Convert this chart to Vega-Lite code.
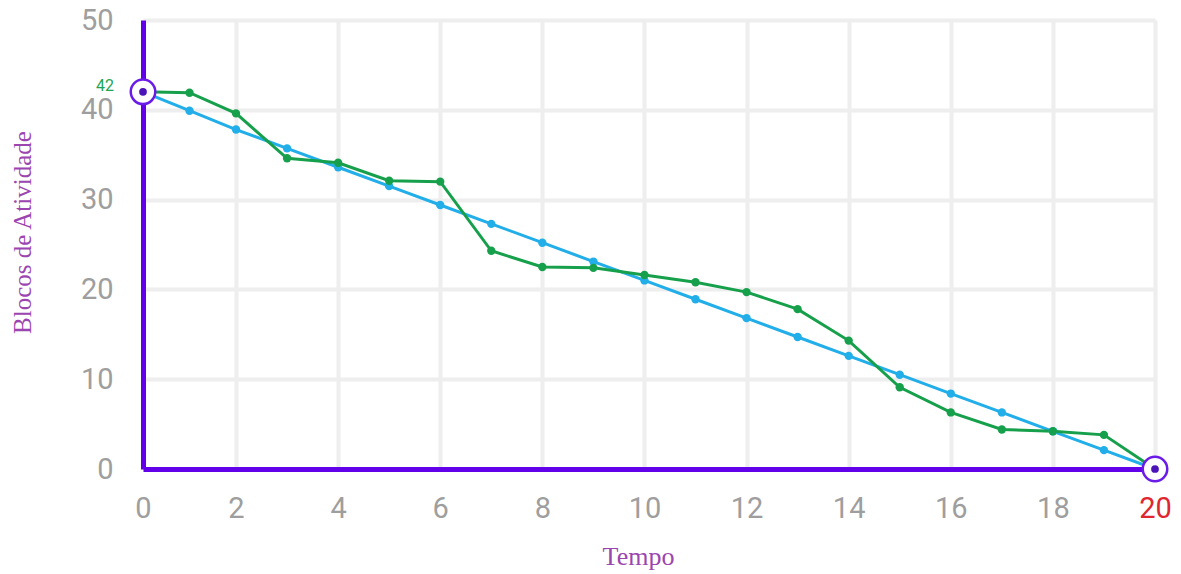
{
  "$schema": "https://vega.github.io/schema/vega-lite/v6.json",
  "width": 1012,
  "height": 449,
  "autosize": {"type": "none"},
  "padding": {"left": 143, "top": 20, "right": 26, "bottom": 105},
  "background": "#ffffff",
  "config": {"view": {"stroke": null}},
  "encoding": {
    "x": {
      "field": "t", "type": "quantitative",
      "scale": {"domain": [0, 2, 20], "range": [0, 93, 1012], "nice": false, "zero": false},
      "axis": {
        "title": "Tempo",
        "values": [0, 2, 4, 6, 8, 10, 12, 14, 16, 18, 20],
        "grid": true, "gridColor": "#eeeeee", "gridWidth": 4,
        "ticks": false,
        "domainColor": "#6200ea", "domainWidth": 5,
        "labelFont": "Roboto", "labelFontSize": 29,
        "labelColor": {"condition": {"test": "datum.value == 20", "value": "#e0262f"}, "value": "#9e9e9e"},
        "labelPadding": 25, "labelFlush": false, "labelOverlap": false, "labelBound": false,
        "titleFont": "Liberation Serif", "titleFontSize": 26, "titleFontWeight": "normal",
        "titleColor": "#9b45b0", "titleX": 495, "titleY": 87,
        "titleAlign": "center", "titleBaseline": "middle"
      }
    },
    "y": {
      "field": "v", "type": "quantitative",
      "scale": {"domain": [0, 50], "nice": false},
      "axis": {
        "title": "Blocos de Atividade",
        "values": [0, 10, 20, 30, 40, 50],
        "grid": true, "gridColor": "#eeeeee", "gridWidth": 4,
        "ticks": false,
        "domainColor": "#6200ea", "domainWidth": 5,
        "labelFont": "Roboto", "labelFontSize": 29, "labelColor": "#9e9e9e",
        "labelPadding": 30, "labelOverlap": false, "labelBound": false, "labelFlush": false,
        "titleFont": "Liberation Serif", "titleFontSize": 25, "titleFontWeight": "normal",
        "titleColor": "#9b45b0", "titleX": -121, "titleY": 212, "titleAngle": -90,
        "titleAlign": "center", "titleBaseline": "middle"
      }
    }
  },
  "layer": [
    {
      "data": {"values": [
        {"t": 0, "v": 42, "s": "Ideal"}, {"t": 1, "v": 39.9, "s": "Ideal"}, {"t": 2, "v": 37.8, "s": "Ideal"},
        {"t": 3, "v": 35.7, "s": "Ideal"}, {"t": 4, "v": 33.6, "s": "Ideal"}, {"t": 5, "v": 31.5, "s": "Ideal"},
        {"t": 6, "v": 29.4, "s": "Ideal"}, {"t": 7, "v": 27.3, "s": "Ideal"}, {"t": 8, "v": 25.2, "s": "Ideal"},
        {"t": 9, "v": 23.1, "s": "Ideal"}, {"t": 10, "v": 21, "s": "Ideal"}, {"t": 11, "v": 18.9, "s": "Ideal"},
        {"t": 12, "v": 16.8, "s": "Ideal"}, {"t": 13, "v": 14.7, "s": "Ideal"}, {"t": 14, "v": 12.6, "s": "Ideal"},
        {"t": 15, "v": 10.5, "s": "Ideal"}, {"t": 16, "v": 8.4, "s": "Ideal"}, {"t": 17, "v": 6.3, "s": "Ideal"},
        {"t": 18, "v": 4.2, "s": "Ideal"}, {"t": 19, "v": 2.1, "s": "Ideal"}, {"t": 20, "v": 0, "s": "Ideal"},
        {"t": 0, "v": 42, "s": "Real"}, {"t": 1, "v": 41.9, "s": "Real"}, {"t": 2, "v": 39.6, "s": "Real"},
        {"t": 3, "v": 34.6, "s": "Real"}, {"t": 4, "v": 34.1, "s": "Real"}, {"t": 5, "v": 32.1, "s": "Real"},
        {"t": 6, "v": 32.0, "s": "Real"}, {"t": 7, "v": 24.3, "s": "Real"}, {"t": 8, "v": 22.5, "s": "Real"},
        {"t": 9, "v": 22.4, "s": "Real"}, {"t": 10, "v": 21.6, "s": "Real"}, {"t": 11, "v": 20.8, "s": "Real"},
        {"t": 12, "v": 19.7, "s": "Real"}, {"t": 13, "v": 17.8, "s": "Real"}, {"t": 14, "v": 14.3, "s": "Real"},
        {"t": 15, "v": 9.1, "s": "Real"}, {"t": 16, "v": 6.3, "s": "Real"}, {"t": 17, "v": 4.4, "s": "Real"},
        {"t": 18, "v": 4.2, "s": "Real"}, {"t": 19, "v": 3.8, "s": "Real"}, {"t": 20, "v": 0, "s": "Real"}
      ]},
      "mark": {"type": "line", "strokeWidth": 3, "point": {"filled": true, "size": 70, "opacity": 1}},
      "encoding": {
        "color": {"field": "s", "type": "nominal", "scale": {"domain": ["Ideal", "Real"], "range": ["#22aee8", "#17a04b"]}, "legend": null},
        "order": {"field": "t"}
      }
    },
    {
      "data": {"values": [{"t": 0, "v": 42}, {"t": 20, "v": 0}]},
      "mark": {"type": "point", "shape": "circle", "size": 600, "filled": true, "fill": "#ffffff", "stroke": "#6a1be8", "strokeWidth": 2.5, "opacity": 1}
    },
    {
      "data": {"values": [{"t": 0, "v": 42}, {"t": 20, "v": 0}]},
      "mark": {"type": "point", "shape": "circle", "size": 60, "filled": true, "color": "#4a14b8", "opacity": 1}
    },
    {
      "data": {"values": [{"t": 0, "v": 42, "label": "42"}]},
      "mark": {"type": "text", "align": "right", "baseline": "middle", "dx": -29, "dy": -6, "font": "Roboto", "fontSize": 16, "color": "#1fa552"},
      "encoding": {"text": {"field": "label"}}
    }
  ]
}
